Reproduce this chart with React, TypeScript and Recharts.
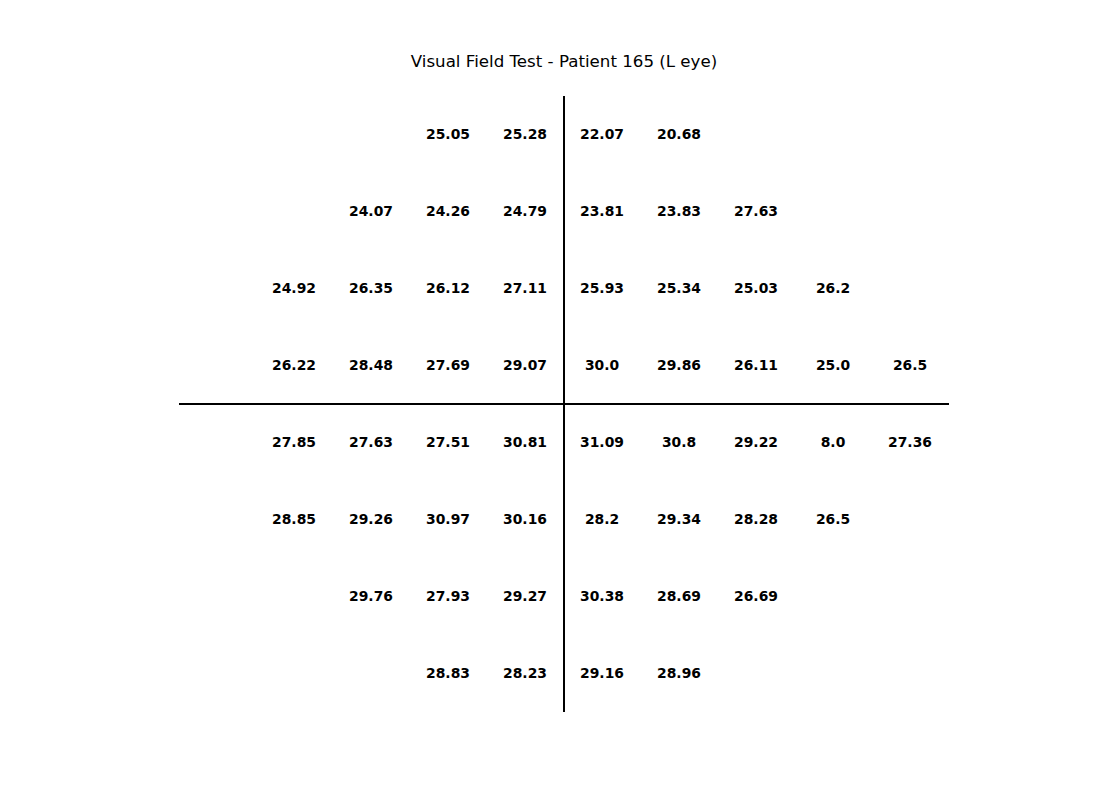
import { ScatterChart, Scatter, XAxis, YAxis, ReferenceLine } from 'recharts';

// grid positions (degrees-ish units, one cell = 1)
const COLS = [-3.5, -2.5, -1.5, -0.5, 0.5, 1.5, 2.5, 3.5, 4.5];
const ROW_Y = [3.5, 2.5, 1.5, 0.5, -0.5, -1.5, -2.5, -3.5];

// sensitivity values per row, left to right (null = not tested)
const ROW_1 = [null, null, 25.05, 25.28, 22.07, 20.68, null, null, null];
const ROW_2 = [null, 24.07, 24.26, 24.79, 23.81, 23.83, 27.63, null, null];
const ROW_3 = [24.92, 26.35, 26.12, 27.11, 25.93, 25.34, 25.03, 26.2, null];
const ROW_4 = [26.22, 28.48, 27.69, 29.07, 30.0, 29.86, 26.11, 25.0, 26.5];
const ROW_5 = [27.85, 27.63, 27.51, 30.81, 31.09, 30.8, 29.22, 8.0, 27.36];
const ROW_6 = [28.85, 29.26, 30.97, 30.16, 28.2, 29.34, 28.28, 26.5, null];
const ROW_7 = [null, 29.76, 27.93, 29.27, 30.38, 28.69, 26.69, null, null];
const ROW_8 = [null, null, 28.83, 28.23, 29.16, 28.96, null, null, null];

const ROWS = [ROW_1, ROW_2, ROW_3, ROW_4, ROW_5, ROW_6, ROW_7, ROW_8];

const FONT = '"DejaVu Sans", sans-serif';

const fmt = (v: number) => (Number.isInteger(v) ? v.toFixed(1) : String(v));

const points = ROWS.flatMap((row, r) =>
  row
    .map((v, c) => (v == null ? null : { x: COLS[c], y: ROW_Y[r], value: v }))
    .filter((p): p is { x: number; y: number; value: number } => p !== null)
);

function ValueLabel(props: any) {
  const { cx, cy, payload } = props;
  if (cx == null || cy == null) return null;
  return (
    <text
      x={cx - 0.5}
      y={cy - 1}
      textAnchor="middle"
      dominantBaseline="central"
      fontFamily={FONT}
      fontWeight="bold"
      fontSize={13.89}
      fill="#000"
    >
      {fmt(payload.value)}
    </text>
  );
}

export default function App() {
  return (
    <div style={{ position: 'absolute', left: 0, top: 0, width: 1100, height: 800, background: '#fff' }}>
      <div
        style={{
          position: 'absolute',
          left: 0,
          width: 1128,
          top: 52,
          textAlign: 'center',
          fontFamily: FONT,
          fontSize: 16.67,
          lineHeight: '20px',
          color: '#000',
        }}
      >
        Visual Field Test - Patient 165 (L eye)
      </div>
      <ScatterChart width={1100} height={800} margin={{ top: 96, right: 151, bottom: 88, left: 179 }}>
        <XAxis type="number" dataKey="x" domain={[-5, 5]} hide />
        <YAxis type="number" dataKey="y" domain={[-4, 4]} hide />
        <ReferenceLine x={0} stroke="#000" strokeWidth={2} />
        <ReferenceLine y={0} stroke="#000" strokeWidth={2} />
        <Scatter data={points} shape={ValueLabel} isAnimationActive={false} />
      </ScatterChart>
    </div>
  );
}
